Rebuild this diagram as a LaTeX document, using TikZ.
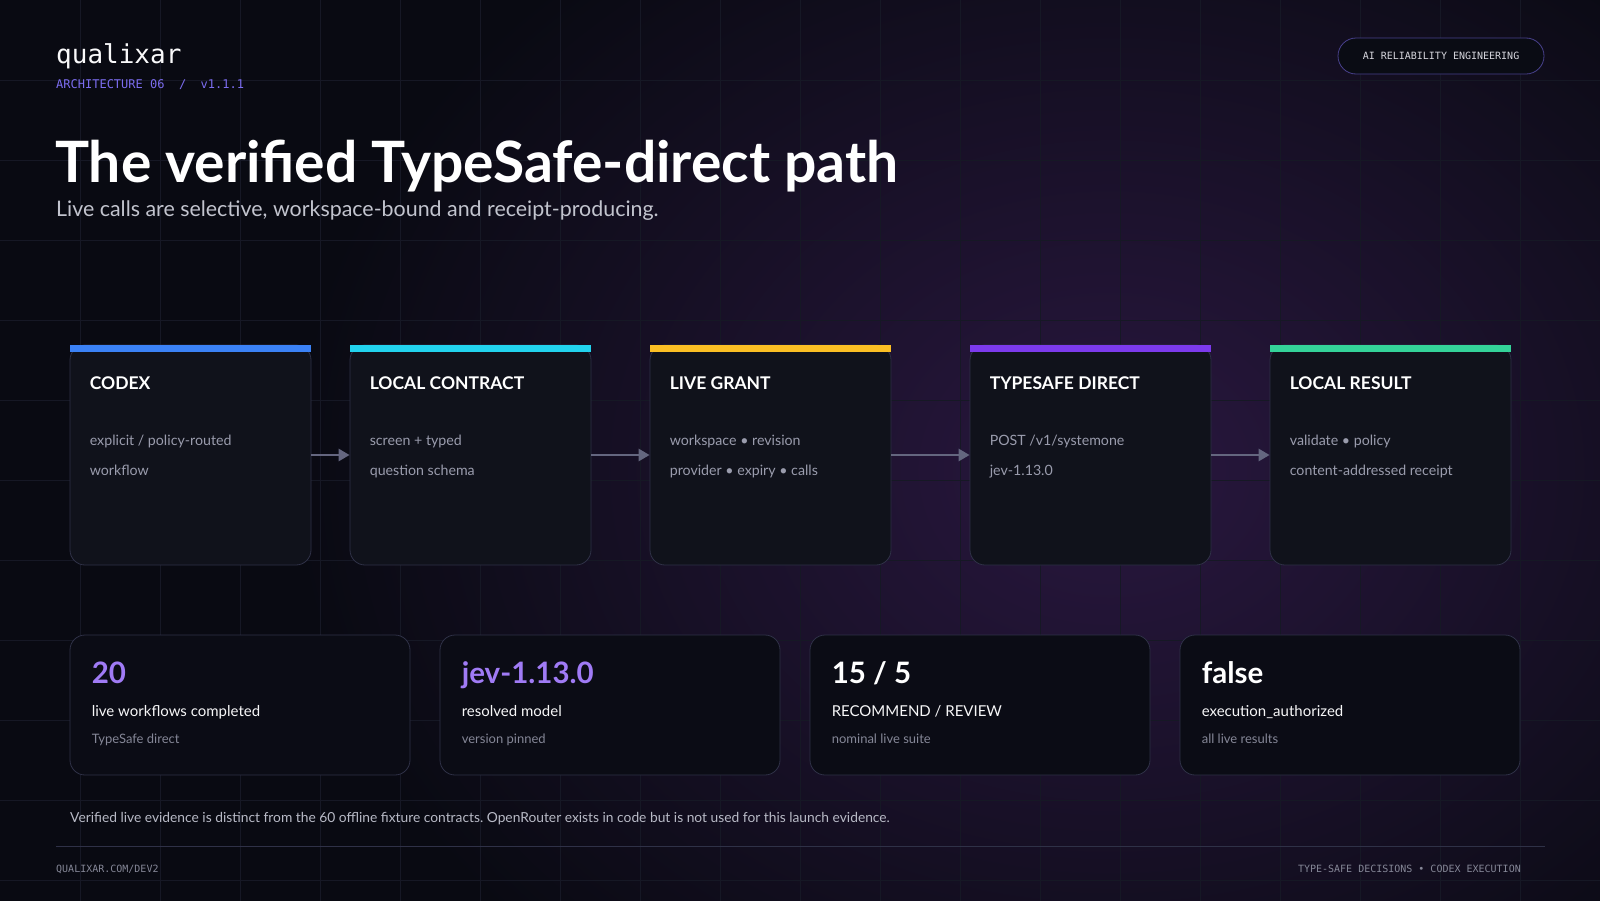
\documentclass[tikz,border=0pt]{standalone}
\usepackage{fontspec}
\setmainfont{Lato}
\newfontfamily\monofont{DejaVu Sans Mono}
\usetikzlibrary{arrows.meta,positioning}
\frenchspacing

\definecolor{bgcol}{HTML}{090A12}
\definecolor{glowcol}{HTML}{29173F}
\definecolor{gridcol}{HTML}{161825}
\definecolor{cardfill}{HTML}{10121B}
\definecolor{statfill}{HTML}{0B0C15}
\definecolor{cardline}{HTML}{2F3147}
\definecolor{bodytext}{HTML}{9A9CAD}
\definecolor{subtext}{HTML}{858797}
\definecolor{accent}{HTML}{7C6DF0}
\definecolor{statnum}{HTML}{A07BF5}
\definecolor{arrowcol}{HTML}{64667F}
\definecolor{barblue}{HTML}{3B82F6}
\definecolor{barcyan}{HTML}{22D3EE}
\definecolor{baramber}{HTML}{FBBF24}
\definecolor{barviolet}{HTML}{7C3AED}
\definecolor{bargreen}{HTML}{34D399}

\tikzset{
  flowcard/.style={draw=cardline, fill=cardfill, rounded corners=15pt, minimum width=241pt, minimum height=220pt, inner sep=0pt, line width=0.8pt},
  statcard/.style={draw=cardline, fill=statfill, rounded corners=15pt, minimum width=340pt, minimum height=140pt, inner sep=0pt, line width=0.8pt},
  cardtitle/.style={anchor=base west, inner sep=0pt, text=white, font=\bfseries\fontsize{17.5}{20}\selectfont},
  cardbody/.style={anchor=base west, inner sep=0pt, text=bodytext, font=\fontsize{14.2}{17}\selectfont},
  statvalue/.style={anchor=base west, inner sep=0pt, font=\bfseries\fontsize{29.5}{34}\selectfont},
  statlabel/.style={anchor=base west, inner sep=0pt, text=white!92!bodytext, font=\fontsize{15}{18}\selectfont},
  statnote/.style={anchor=base west, inner sep=0pt, text=subtext, font=\fontsize{13}{15}\selectfont},
  flow/.style={draw=arrowcol, line width=2.6pt, -{Triangle[length=11pt,width=12pt]}},
  monotext/.style={anchor=base west, inner sep=0pt, font=\monofont\fontsize{10}{12}\selectfont},
}

\begin{document}
\begin{tikzpicture}[x=1pt, y=-1pt]
\useasboundingbox (0,0) rectangle (1600,900);
% background, glow, grid
\fill[bgcol] (-10,-10) rectangle (1610,910);
\shade[inner color=glowcol, outer color=bgcol] (1110,470) ellipse [x radius=820, y radius=660];
\foreach \x in {80,160,...,1520} \draw[gridcol, line width=0.8pt] (\x,-5) -- (\x,905);
\foreach \y in {80,160,...,880} \draw[gridcol, line width=0.8pt] (-5,\y) -- (1605,\y);

%Header
\node[anchor=base west, inner sep=0pt, text=white!94!bodytext, font=\monofont\fontsize{26}{30}\selectfont] (brand) at (56,63) {qualixar};
\node[anchor=base west, inner sep=0pt, text=accent, font=\monofont\fontsize{12}{14}\selectfont] (release) at (56,88) {ARCHITECTURE 06\ \ /\ \ v1.1.1};
\node[draw=accent!55!bgcol, fill=bgcol!80!cardfill, rounded corners=18pt, minimum width=206pt, minimum height=36pt, inner sep=0pt, line width=0.8pt, text=white!60!bodytext, font=\monofont\fontsize{10}{12}\selectfont] (tag) at (1441,56) {AI RELIABILITY ENGINEERING\hspace{12pt}};
\node[anchor=base west, inner sep=0pt, text=white, font=\bfseries\fontsize{57}{64}\selectfont] (headline) at (55,182) {The verified TypeSafe-direct path};
\node[anchor=base west, inner sep=0pt, text=white!40!bodytext, font=\fontsize{21.4}{25}\selectfont] (subline) at (56,216) {Live calls are selective, workspace-bound and receipt-producing.};

%Flow cards
\node[flowcard] (codex) at (190.5,455) {};
\node[flowcard] (contract) at (470.5,455) {};
\node[flowcard] (grant) at (770.5,455) {};
\node[flowcard] (direct) at (1090.5,455) {};
\node[flowcard] (result) at (1390.5,455) {};
\fill[barblue] (codex.north west) rectangle ++(241,7);
\fill[barcyan] (contract.north west) rectangle ++(241,7);
\fill[baramber] (grant.north west) rectangle ++(241,7);
\fill[barviolet] (direct.north west) rectangle ++(241,7);
\fill[bargreen] (result.north west) rectangle ++(241,7);

\node[cardtitle] at ([xshift=20pt,yshift=-45pt]codex.north west) {CODEX};
\node[cardbody] at ([xshift=20pt,yshift=-101pt]codex.north west) {explicit / policy-routed};
\node[cardbody] at ([xshift=20pt,yshift=-131pt]codex.north west) {workflow};
\node[cardtitle] at ([xshift=20pt,yshift=-45pt]contract.north west) {LOCAL CONTRACT};
\node[cardbody] at ([xshift=20pt,yshift=-101pt]contract.north west) {screen + typed};
\node[cardbody] at ([xshift=20pt,yshift=-131pt]contract.north west) {question schema};
\node[cardtitle] at ([xshift=20pt,yshift=-45pt]grant.north west) {LIVE GRANT};
\node[cardbody] at ([xshift=20pt,yshift=-101pt]grant.north west) {workspace • revision};
\node[cardbody] at ([xshift=20pt,yshift=-131pt]grant.north west) {provider • expiry • calls};
\node[cardtitle] at ([xshift=20pt,yshift=-45pt]direct.north west) {TYPESAFE DIRECT};
\node[cardbody] at ([xshift=20pt,yshift=-101pt]direct.north west) {POST /v1/systemone};
\node[cardbody] at ([xshift=20pt,yshift=-131pt]direct.north west) {jev-1.13.0};
\node[cardtitle] at ([xshift=20pt,yshift=-45pt]result.north west) {LOCAL RESULT};
\node[cardbody] at ([xshift=20pt,yshift=-101pt]result.north west) {validate • policy};
\node[cardbody] at ([xshift=20pt,yshift=-131pt]result.north west) {content-addressed receipt};

\draw[flow] (codex) -- (contract);
\draw[flow] (contract) -- (grant);
\draw[flow] (grant) -- (direct);
\draw[flow] (direct) -- (result);

%Stat cards
\node[statcard] (workflows) at (240,705) {};
\node[statcard] (model) at (610,705) {};
\node[statcard] (verdicts) at (980,705) {};
\node[statcard] (authorized) at (1350,705) {};

\node[statvalue, text=statnum] at ([xshift=22pt,yshift=-49pt]workflows.north west) {20};
\node[statlabel] at ([xshift=22pt,yshift=-82pt]workflows.north west) {live workflows completed};
\node[statnote] at ([xshift=22pt,yshift=-109pt]workflows.north west) {TypeSafe direct};
\node[statvalue, text=statnum] at ([xshift=22pt,yshift=-49pt]model.north west) {jev-1.13.0};
\node[statlabel] at ([xshift=22pt,yshift=-82pt]model.north west) {resolved model};
\node[statnote] at ([xshift=22pt,yshift=-109pt]model.north west) {version pinned};
\node[statvalue, text=white] at ([xshift=22pt,yshift=-49pt]verdicts.north west) {15 / 5};
\node[statlabel] at ([xshift=22pt,yshift=-82pt]verdicts.north west) {RECOMMEND / REVIEW};
\node[statnote] at ([xshift=22pt,yshift=-109pt]verdicts.north west) {nominal live suite};
\node[statvalue, text=white] at ([xshift=22pt,yshift=-49pt]authorized.north west) {false};
\node[statlabel] at ([xshift=22pt,yshift=-82pt]authorized.north west) {execution\_authorized};
\node[statnote] at ([xshift=22pt,yshift=-109pt]authorized.north west) {all live results};

%Footer
\node[anchor=base west, inner sep=0pt, text=white!30!bodytext, font=\fontsize{13.8}{16}\selectfont] (caveat) at (70,822) {Verified live evidence is distinct from the 60 offline fixture contracts. OpenRouter exists in code but is not used for this launch evidence.};
\draw[cardline, line width=0.8pt] (56,846) -- (1545,846);
\node[monotext, text=subtext] (site) at (56,872) {QUALIXAR.COM/DEV2};
\node[monotext, text=subtext, anchor=base east] (tagline) at (1521,872) {TYPE-SAFE DECISIONS • CODEX EXECUTION};
\end{tikzpicture}
\end{document}
